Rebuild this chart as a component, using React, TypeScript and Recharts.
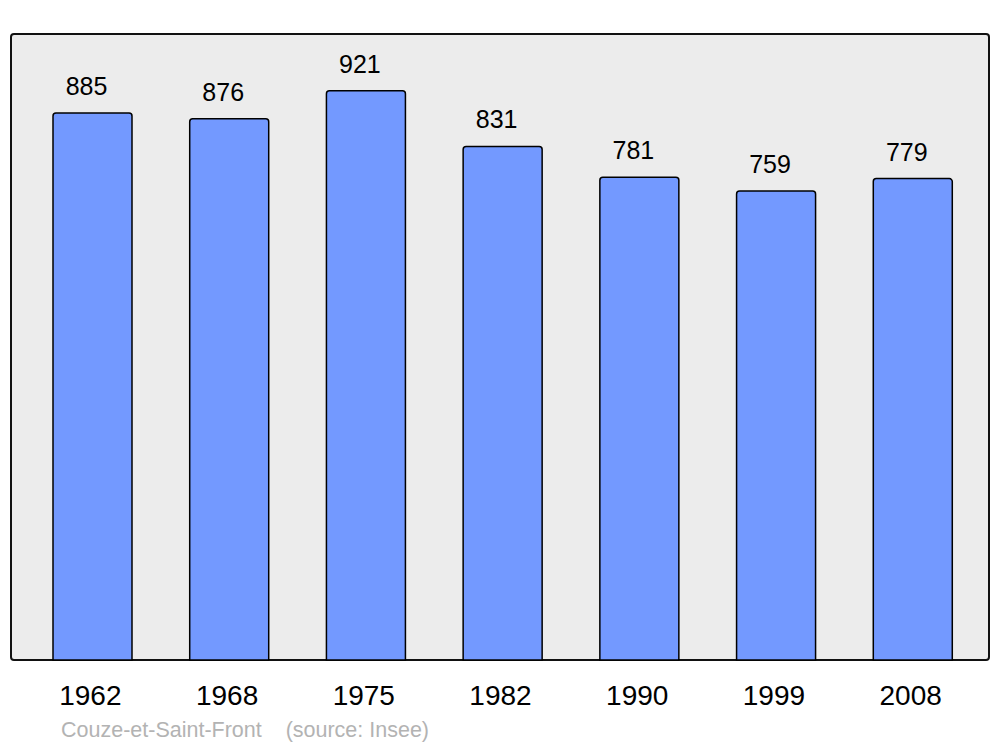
import React from "react";
import { Bar, BarChart, LabelList, XAxis, YAxis } from "recharts";

const years = ["1962", "1968", "1975", "1982", "1990", "1999", "2008"];
const population = [885, 876, 921, 831, 781, 759, 779];

const data = years.map((year, i) => ({ year, population: population[i] }));

export default function App() {
  return (
    <div
      style={{
        position: "absolute",
        left: 0,
        top: 0,
        width: 1000,
        height: 747,
        background: "#fff",
        fontFamily: "'Liberation Sans', Arial, sans-serif",
      }}
    >
      <div
        style={{
          position: "absolute",
          left: 10,
          top: 33,
          width: 980,
          height: 628,
          boxSizing: "border-box",
          border: "2.5px solid #111",
          borderRadius: 4,
          background: "#ececec",
        }}
      />
      <div style={{ position: "absolute", left: 0, top: 0 }}>
        <BarChart
          width={1000}
          height={747}
          data={data}
          margin={{ top: 34, right: 11, bottom: 47, left: 11 }}
        >
          <XAxis
            dataKey="year"
            height={40}
            axisLine={false}
            tickLine={false}
            tickSize={0}
            tickMargin={25}
            padding={{ left: 13, right: 8 }}
            tick={{ fill: "#000", fontSize: 28, dx: -2 }}
          />
          <YAxis hide domain={[0, 1013]} />
          <Bar
            dataKey="population"
            fill="#7399ff"
            stroke="#000"
            strokeWidth={1.5}
            barSize={79}
            radius={[3, 3, 0, 0]}
            isAnimationActive={false}
          >
            <LabelList
              dataKey="population"
              position="top"
              offset={18}
              dx={-6}
              fill="#000"
              fontSize={25}
            />
          </Bar>
        </BarChart>
      </div>
      <div
        style={{
          position: "absolute",
          left: 61,
          top: 718,
          fontSize: 21.5,
          color: "#b3b3b3",
          whiteSpace: "pre",
        }}
      >
        {"Couze-et-Saint-Front    (source: Insee)"}
      </div>
    </div>
  );
}
